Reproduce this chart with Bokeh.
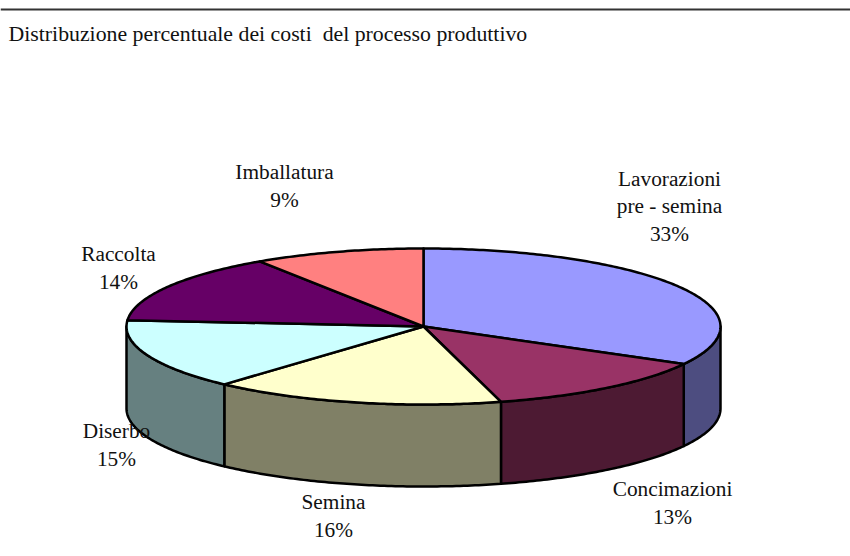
import numpy as np
from bokeh.plotting import figure
from bokeh.models import Range1d, ColumnDataSource
from bokeh.core.properties import value
from bokeh.embed import file_html
from bokeh.resources import INLINE

title = "Distribuzione percentuale dei costi \u00a0del processo produttivo"
categories = ["Lavorazioni pre - semina", "Concimazioni", "Semina", "Diserbo", "Raccolta", "Imballatura"]
shares = [33.0, 12.8, 15.9, 14.6, 14.4, 9.3]
top_colors = ["#9999FF", "#993366", "#FFFFCC", "#CCFFFF", "#660066", "#FF8080"]
side_colors = ["#4D4D80", "#4D1A33", "#808066", "#668080", "#330033", "#804040"]

# label lines: category lines plus percentage
label_lines = [["Lavorazioni", "pre - semina"], ["Concimazioni"], ["Semina"], ["Diserbo"], ["Raccolta"], ["Imballatura"]]
label_x = [669, 672, 333, 116, 118, 284]
label_y_last = [233, 516, 529, 458, 281, 199]
LINE = 27.5

CX, CY, RX, RY, DEPTH = 423, 326, 297, 78, 82

p = figure(width=850, height=556, output_backend="svg", toolbar_location=None,
           x_range=Range1d(0, 850), y_range=Range1d(556, 0), min_border=0,
           outline_line_color=None)
p.axis.visible = False
p.grid.visible = False

edges = np.cumsum([0] + shares) / sum(shares) * 2 * np.pi


def arc(a, b):
    n = max(2, int(abs(b - a) * 80))
    t = np.linspace(a, b, n)
    return CX + RX * np.sin(t), CY - RY * np.cos(t)


# side walls (only the front half is seen)
wxs, wys, wcs = [], [], []
for i, col in enumerate(side_colors):
    a, b = max(edges[i], np.pi / 2), min(edges[i + 1], 3 * np.pi / 2)
    if b <= a:
        continue
    x, y = arc(a, b)
    wxs.append(np.r_[x, x[::-1]])
    wys.append(np.r_[y, y[::-1] + DEPTH])
    wcs.append(col)
p.patches(wxs, wys, fill_color=wcs, line_color="black", line_width=2.5, line_join="round")

# top slices
txs, tys = [], []
for i in range(len(shares)):
    x, y = arc(edges[i], edges[i + 1])
    txs.append(np.r_[CX, x])
    tys.append(np.r_[CY, y])
p.patches(txs, tys, fill_color=top_colors, line_color="black", line_width=2.5, line_join="round")

# rule along the top
p.line([0, 850], [9, 9], line_color="#333333", line_width=2)

# texts
tx, ty, tt = [], [], []
for i, lines in enumerate(label_lines):
    rows = lines + [f"{round(shares[i])}%"]
    for j, row in enumerate(rows):
        tx.append(label_x[i])
        ty.append(label_y_last[i] - (len(rows) - 1 - j) * LINE)
        tt.append(row)
FONT = value("Liberation Serif")
p.text(x="x", y="y", text="t", source=ColumnDataSource(dict(x=tx, y=ty, t=tt)), text_font=FONT,
       text_font_size="21.33px", text_color="#111111", text_align="center", text_baseline="middle")
p.text(x=[8], y=[33], text=[title], text_font=FONT, text_font_size="21.8px", text_color="#111111",
       text_align="left", text_baseline="middle")

open("out.html", "w").write(file_html(p, INLINE))
